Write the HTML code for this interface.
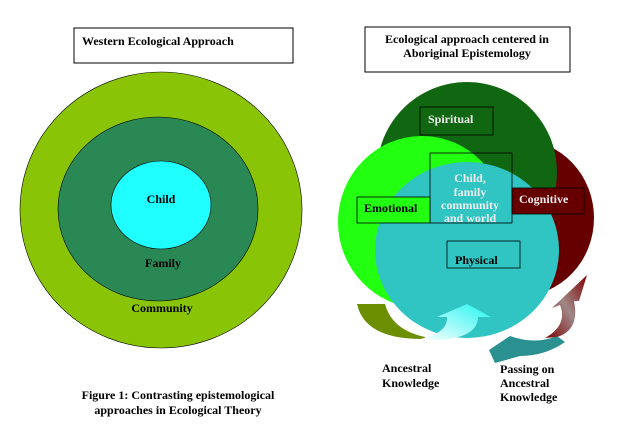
<!DOCTYPE html>
<html><head><style>
body{margin:0;background:#fff;width:621px;height:433px;overflow:hidden}
svg text{font-family:"Liberation Serif",serif;font-weight:bold;font-size:12px}
</style></head><body>
<svg width="621" height="433" viewBox="0 0 621 433">
<defs>
<linearGradient id="cy" x1="0" y1="1" x2="1" y2="0"><stop offset="0" stop-color="#ffffff"/><stop offset="1" stop-color="#22f5f0"/></linearGradient>
<linearGradient id="rd" x1="0" y1="1" x2="1" y2="0"><stop offset="0" stop-color="#7a0000"/><stop offset="0.5" stop-color="#a08888"/><stop offset="1" stop-color="#800000"/></linearGradient>
</defs>
<rect x="74" y="28" width="219" height="35" fill="#fff" stroke="#000" stroke-width="1"/>
<text x="82" y="45">Western Ecological Approach</text>
<ellipse cx="161" cy="210" rx="141" ry="138" fill="#8ac407" stroke="#000" stroke-width="0.6"/>
<ellipse cx="158" cy="209" rx="100" ry="92" fill="#2a8855" stroke="#000" stroke-width="0.6"/>
<ellipse cx="161" cy="205" rx="50" ry="44" fill="#20ffff" stroke="#000" stroke-width="0.6"/>
<text x="161" y="203" text-anchor="middle">Child</text>
<text x="163" y="267" text-anchor="middle">Family</text>
<text x="162" y="312" text-anchor="middle">Community</text>
<text x="178" y="399" text-anchor="middle">Figure 1: Contrasting epistemological</text>
<text x="178" y="414" text-anchor="middle">approaches in Ecological Theory</text>

<rect x="365" y="27" width="205" height="45" fill="#fff" stroke="#000" stroke-width="1"/>
<text x="467" y="43" text-anchor="middle">Ecological approach centered in</text>
<text x="467" y="57" text-anchor="middle">Aboriginal Epistemology</text>

<ellipse cx="520" cy="218" rx="74" ry="78" fill="#660000"/>
<ellipse cx="467" cy="172" rx="90" ry="90" fill="#116611"/>
<ellipse cx="422" cy="222" rx="84" ry="86" fill="#22ff11"/>
<ellipse cx="467" cy="250" rx="92" ry="88" fill="#30c4c2"/>
<rect x="420" y="107" width="73" height="28" fill="none" stroke="#000" stroke-width="0.8"/>
<text x="428" y="123" fill="#eee">Spiritual</text>
<rect x="430" y="153" width="82" height="70" fill="none" stroke="#000" stroke-width="0.8"/>
<rect x="357" y="197" width="73" height="26" fill="#22ff11" stroke="#000" stroke-width="0.8"/>
<text x="364" y="212">Emotional</text>
<g fill="#eee" text-anchor="middle">
<text x="470" y="182">Child,</text>
<text x="470" y="196">family</text>
<text x="470" y="209">community</text>
<text x="470" y="222">and world</text>
</g>
<rect x="512" y="188" width="72" height="26" fill="#660000" stroke="#000" stroke-width="0.8"/>
<text x="519" y="203" fill="#eee">Cognitive</text>
<rect x="447" y="241" width="73" height="27" fill="none" stroke="#000" stroke-width="0.8"/>
<text x="455" y="264">Physical</text>

<path d="M357,304 L385,304 Q392,330 425,337 L425,339 Q365,340 357,304 Z" fill="#6b8f00"/>
<path d="M420,339 Q448,333 447,317 L437,317 L467,304 L491,317 L478,317 Q478,337 440,340 Z" fill="url(#cy)"/>
<path d="M489,350 L510,336 Q535,345 557,336 L565,342 Q545,356 520,356 L495,363 Z" fill="#2a9090"/>
<path d="M545,338 Q568,325 560,305 L552,308 L587,275 L579,301 L574,301 Q580,330 557,337 Z" fill="url(#rd)"/>

<text x="382" y="372">Ancestral</text>
<text x="382" y="387">Knowledge</text>
<text x="500" y="373">Passing on</text>
<text x="500" y="387">Ancestral</text>
<text x="500" y="401">Knowledge</text>
</svg>
</body></html>
